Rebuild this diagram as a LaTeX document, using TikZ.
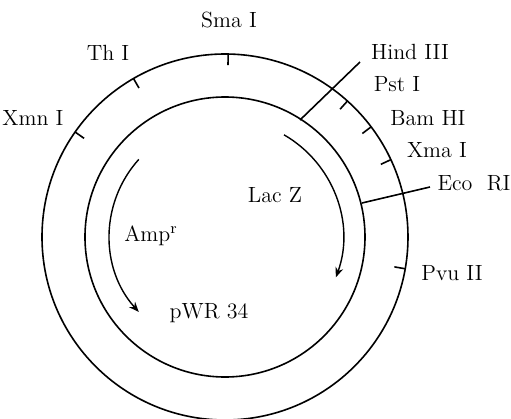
\documentclass[tikz,border=0pt]{standalone}
\usepackage{tikz}
\usetikzlibrary{arrows.meta}

\tikzset{
  site/.style={font=\fontsize{11}{13}\selectfont, inner sep=0pt},
  ring/.style={line width=0.8pt},
  cut/.style={line width=0.8pt},
  gene/.style={line width=0.7pt, -{Stealth[length=5pt,width=4pt]}}
}

\begin{document}
\begin{tikzpicture}[x=0.5pt,y=0.5pt]
	\useasboundingbox (-225,-182) rectangle (286,237);

	% plasmid rings
	\draw[ring] (0,0) circle[radius=183];
	\draw[ring] (0,0) circle[radius=140];

	% small sites on the outer ring
	\foreach \a in {89,120,145,48,37,25,-10}
		\draw[ring] (\a:183) -- (\a:172);

	% long cuts
	\coordinate (hindin) at (75,117);
	\coordinate (hindout) at (135,175);
	\coordinate (ecoin) at (137,34);
	\coordinate (ecoout) at (205,50);
	\draw[cut] (hindin) -- (hindout);
	\draw[cut] (ecoin) -- (ecoout);

	% genes
	\draw[gene] (60:118) arc[start angle=60, end angle=-20, radius=118];
	\draw[gene] (138:116) arc[start angle=138, end angle=222, radius=114];

	% labels
	\node[site] (sma) at (4,217) {Sma I};
	\node[site] (th) at (-117,184) {Th I};
	\node[site] (xmn) at (-192,119) {Xmn I};
	\node[site] (hind) at (185,185) {Hind III};
	\node[site] (pst) at (172,153) {Pst I};
	\node[site] (bam) at (203,119) {Bam HI};
	\node[site] (xma) at (212,87) {Xma I};
	\node[site] (eco) at (249,54) {Eco\ \ RI};
	\node[site] (pvu) at (227,-36) {Pvu II};
	\node[site] (lac) at (50,42) {Lac Z};
	\node[site] (amp) at (-74,1) {Amp\textsuperscript{r}};
	\node[site] (pwr) at (-16,-76) {pWR 34};
\end{tikzpicture}
\end{document}
